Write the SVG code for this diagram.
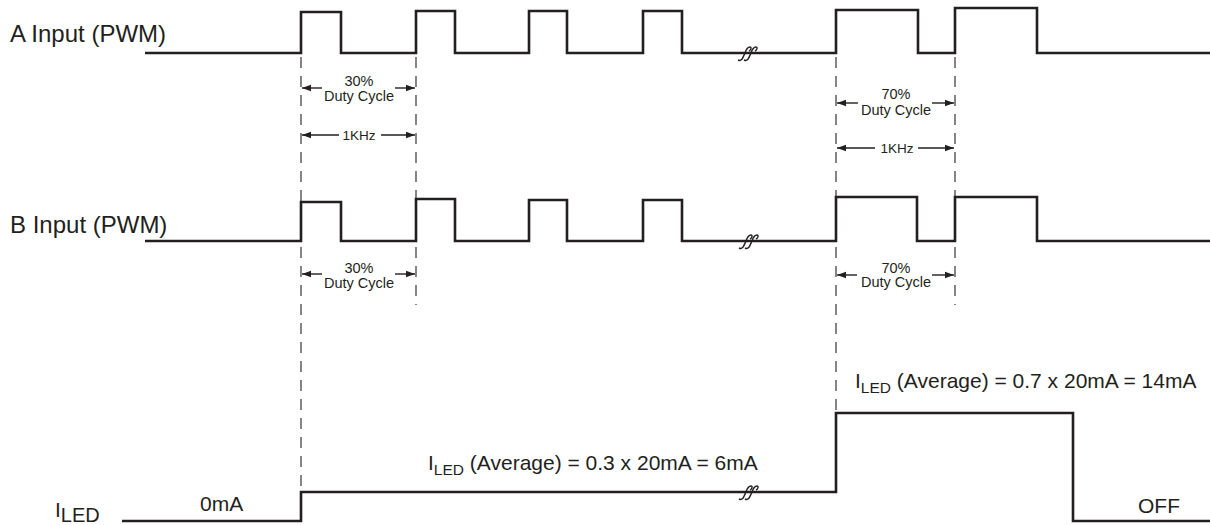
<svg xmlns="http://www.w3.org/2000/svg" width="1210" height="525" viewBox="0 0 1210 525">
<style>
.w{fill:none;stroke:#231f20;stroke-width:2.6;stroke-linejoin:miter}
.d{fill:none;stroke:#231f20;stroke-width:1.1;stroke-dasharray:11 8}
.a{fill:none;stroke:#231f20;stroke-width:1.4}
.brk{fill:none;stroke:#231f20;stroke-width:1.4}
text{font-family:"Liberation Sans",Arial,sans-serif;fill:#231f20}
.lbl{font-size:24px}
.sm{font-size:14.5px}
.xs{font-size:13.5px}
.md{font-size:21px}
</style>
<defs>
<marker id="ah" viewBox="0 0 10 10" refX="10" refY="5" markerWidth="9" markerHeight="9" markerUnits="userSpaceOnUse" orient="auto">
<path d="M0,1.5 L10,5 L0,8.5 Z" fill="#231f20"/>
</marker>
<path id="bk" d="M-9,7 C-5,9 -4,4 -2,0 C-1,-3 0,-6 3,-6 C5,-6 4,-3 2,-2 M-3,7 C1,9 2,4 4,0 C5,-3 6,-6 9,-6 C11,-6 10,-3 8,-2"/>
</defs>
<rect width="1210" height="525" fill="#fff"/>

<g id="waveA">
<path class="w" d="M145,53 H301 V12 H341 V53 H416 V11 H455 V53 H529 V11 H567 V53 H643 V11 H682 V53 H836 V10 H918 V53 H955 V8 H1037 V53 H1210"/>
<use href="#bk" class="brk" x="747" y="53"/>
<text class="lbl" x="10" y="42">A Input (PWM)</text>
</g>

<g id="waveB">
<path class="w" d="M145,241 H301 V202 H341 V241 H416 V199 H455 V241 H529 V200 H567 V241 H643 V200 H682 V241 H836 V197 H917 V241 H955 V197 H1037 V241 H1210"/>
<use href="#bk" class="brk" x="748" y="241"/>
<text class="lbl" x="10" y="233">B Input (PWM)</text>
</g>

<g id="iled">
<path class="w" d="M122,521 H301 V492 H836 V413 H1073 V521 H1210"/>
<use href="#bk" class="brk" x="748" y="492"/>
<text class="md" x="55" y="517">I<tspan font-size="20" dy="5">LED</tspan></text>
<text class="md" x="200" y="511">0mA</text>
<text class="md" x="1138" y="513">OFF</text>
<text class="md" x="428" y="470">I<tspan font-size="15.5" dy="5">LED</tspan><tspan dy="-5"> (Average) = 0.3 x 20mA = 6mA</tspan></text>
<text class="md" x="855" y="388">I<tspan font-size="15.5" dy="5">LED</tspan><tspan dy="-5"> (Average) = 0.7 x 20mA = 14mA</tspan></text>
</g>

<g id="connectors">
<line class="d" x1="301" y1="57" x2="301" y2="492"/>
<line class="d" x1="416" y1="57" x2="416" y2="305"/>
<line class="d" x1="836" y1="57" x2="836" y2="413"/>
<line class="d" x1="955" y1="57" x2="955" y2="305"/>
<line class="a" x1="322" y1="88" x2="302" y2="88" marker-end="url(#ah)"/>
<line class="a" x1="395" y1="88" x2="415" y2="88" marker-end="url(#ah)"/>
<line class="a" x1="339" y1="135" x2="302" y2="135" marker-end="url(#ah)"/>
<line class="a" x1="381" y1="135" x2="415" y2="135" marker-end="url(#ah)"/>
<line class="a" x1="858" y1="103" x2="837" y2="103" marker-end="url(#ah)"/>
<line class="a" x1="932" y1="103" x2="954" y2="103" marker-end="url(#ah)"/>
<line class="a" x1="875" y1="148" x2="837" y2="148" marker-end="url(#ah)"/>
<line class="a" x1="918" y1="148" x2="954" y2="148" marker-end="url(#ah)"/>
<line class="a" x1="322" y1="274" x2="302" y2="274" marker-end="url(#ah)"/>
<line class="a" x1="395" y1="274" x2="415" y2="274" marker-end="url(#ah)"/>
<line class="a" x1="857" y1="275" x2="837" y2="275" marker-end="url(#ah)"/>
<line class="a" x1="932" y1="275" x2="954" y2="275" marker-end="url(#ah)"/>
</g>

<g id="labels" text-anchor="middle">
<text class="sm" x="359" y="86">30%</text>
<text class="sm" x="359" y="101">Duty Cycle</text>
<text class="xs" x="359" y="140">1KHz</text>
<text class="sm" x="896" y="99">70%</text>
<text class="sm" x="896" y="115">Duty Cycle</text>
<text class="xs" x="897" y="153">1KHz</text>
<text class="sm" x="359" y="273">30%</text>
<text class="sm" x="359" y="288">Duty Cycle</text>
<text class="sm" x="896" y="273">70%</text>
<text class="sm" x="896" y="287">Duty Cycle</text>
</g>
</svg>
